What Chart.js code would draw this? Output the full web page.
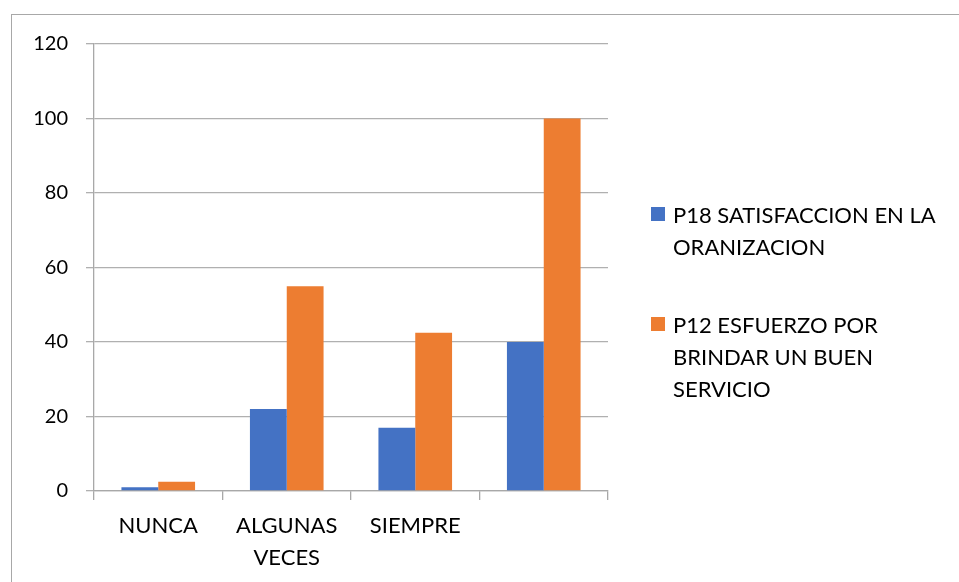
<!DOCTYPE html>
<html>
<head>
<meta charset="utf-8">
<script src="https://cdn.jsdelivr.net/npm/chart.js@4/dist/chart.umd.min.js"></script>
<style>
  html, body { margin: 0; padding: 0; background: #ffffff; }
  #wrap { position: relative; width: 959px; height: 582px; overflow: hidden; }
  #frame { position: absolute; left: 11px; top: 14px; width: 1000px; height: 620px;
           border: 1px solid #a8a8a8; box-sizing: border-box; }
  #chart { position: absolute; left: 0; top: 0; }
  #legend { position: absolute; left: 651px; top: 199px; font-family: Lato, "Open Sans", sans-serif;
            font-size: 22px; line-height: 32px; color: #000; }
  .item { position: relative; padding-left: 22px; margin-bottom: 46px; }
  .swatch { position: absolute; left: 0; top: 8px; width: 14px; height: 14px; }
</style>
</head>
<body>
<div id="wrap">
  <div id="frame"></div>
  <canvas id="chart" width="959" height="582"></canvas>
  <div id="legend"></div>
</div>
<script>
// Response categories on the x axis
const categories = [['NUNCA'], ['ALGUNAS', 'VECES'], ['SIEMPRE'], ['']];

// Series names, split into the lines shown in the legend
const seriesNames = [
  ['P18 SATISFACCION EN LA', 'ORANIZACION'],
  ['P12 ESFUERZO POR', 'BRINDAR UN BUEN', 'SERVICIO']
];

// Values per category
const satisfaccion = [1, 22, 17, 40];
const esfuerzo = [2.5, 55, 42.5, 100];

// Y axis range and step
const yTicks = { min: 0, max: 120, step: 20 };

const seriesColors = ['#4472C4', '#ED7D31'];
const FAMILY = 'Lato, "Open Sans", sans-serif';

const chart = new Chart(document.getElementById('chart'), {
  type: 'bar',
  data: {
    labels: categories,
    datasets: [
      { label: seriesNames[0].join(' '), data: satisfaccion, backgroundColor: seriesColors[0] },
      { label: seriesNames[1].join(' '), data: esfuerzo, backgroundColor: seriesColors[1] }
    ]
  },
  options: {
    responsive: false,
    animation: false,
    devicePixelRatio: 1,
    layout: { padding: { left: 0, top: 44, right: 351, bottom: 0 } },
    datasets: { bar: { categoryPercentage: 0.573, barPercentage: 1.0 } },
    plugins: { legend: { display: false }, tooltip: { enabled: false } },
    scales: {
      x: {
        grid: { drawOnChartArea: false, drawTicks: true, tickLength: 9, color: '#a8a8a8', lineWidth: 1.3, offset: true },
        border: { display: true, color: '#a8a8a8', width: 1.3 },
        ticks: { color: '#000', font: { family: FAMILY, size: 22, lineHeight: 32 / 22 }, padding: 10, maxRotation: 0, autoSkip: false },
        afterFit: (s) => { s.height = 91; }
      },
      y: {
        min: yTicks.min, max: yTicks.max,
        grid: { color: '#b0b0b0', lineWidth: 1.3, tickLength: 8 },
        border: { display: true, color: '#a8a8a8', width: 1.3 },
        ticks: { stepSize: yTicks.step, color: '#000', font: { family: FAMILY, size: 20 }, padding: 18 },
        afterFit: (s) => { s.width = 94; }
      }
    }
  }
});

// Legend built from the chart's datasets, with line breaks per series
const legend = document.getElementById('legend');
chart.data.datasets.forEach((ds, i) => {
  const item = document.createElement('div');
  item.className = 'item';
  const sw = document.createElement('span');
  sw.className = 'swatch';
  sw.style.background = ds.backgroundColor;
  item.appendChild(sw);
  seriesNames[i].forEach((line) => {
    const d = document.createElement('div');
    d.textContent = line;
    item.appendChild(d);
  });
  legend.appendChild(item);
});
</script>
</body>
</html>
